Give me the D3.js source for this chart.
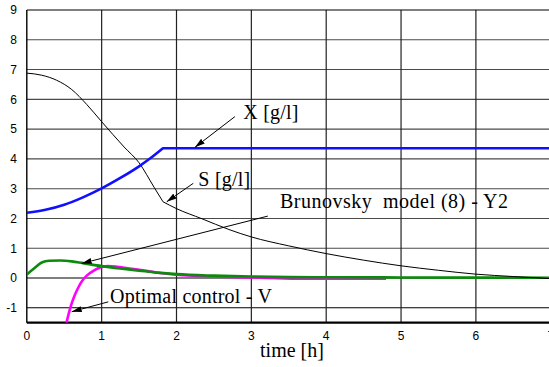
<!DOCTYPE html>
<html>
<head>
<meta charset="utf-8">
<script src="https://cdn.jsdelivr.net/npm/d3@7"></script>
<style>
  html, body { margin: 0; padding: 0; background: #fff; overflow: hidden; }
  svg { display: block; }
</style>
</head>
<body>
<svg id="chart" width="549" height="367"></svg>
<script>
// Fed-batch simulation: concentrations and control signal over time
const xTicks = [0, 1, 2, 3, 4, 5, 6, 7];
const yTicks = [-1, 0, 1, 2, 3, 4, 5, 6, 7, 8, 9];

// S [g/l] (substrate); feeding switches at t = 1.82 h
const sTime   = [0, 0.2, 0.4, 0.6, 0.8, 1.0, 1.3, 1.5, 1.7, 1.82, 2.0, 2.34, 2.7, 3.0, 3.5, 4.0, 4.5, 5.0, 5.5, 6.0, 6.5, 7.0];
const sValues = [6.88, 6.81, 6.64, 6.33, 5.83, 5.25, 4.40, 3.87, 3.05, 2.56, 2.33, 1.99, 1.63, 1.38, 1.08, 0.82, 0.60, 0.41, 0.26, 0.13, 0.05, -0.02];

// X [g/l] (biomass)
const xTime   = [0, 0.25, 0.5, 0.75, 1.0, 1.25, 1.5, 1.65, 1.82, 7.0];
const xValues = [2.19, 2.29, 2.46, 2.71, 3.01, 3.36, 3.75, 4.02, 4.36, 4.36];

// Brunovsky model (8) - Y2
const yTime   = [0, 0.1, 0.2, 0.3, 0.45, 0.6, 0.75, 1.0, 1.25, 1.5, 1.75, 2.0, 2.5, 3.0, 3.5, 4.0, 5.0, 6.0, 7.0];
const yValues = [0.12, 0.33, 0.52, 0.58, 0.59, 0.56, 0.50, 0.40, 0.32, 0.25, 0.18, 0.13, 0.08, 0.05, 0.03, 0.025, 0.02, 0.015, 0.01];

// Optimal control - V
const vTime   = [0.53, 0.57, 0.6, 0.64, 0.68, 0.72, 0.77, 0.84, 0.9, 0.98, 1.08, 1.2, 1.35, 1.5, 1.75, 2.0, 2.5, 3.0, 3.6, 4.8];
const vValues = [-1.5, -1.1, -0.85, -0.58, -0.36, -0.17, 0.0, 0.16, 0.26, 0.35, 0.40, 0.38, 0.33, 0.28, 0.18, 0.11, 0.05, 0.02, -0.02, -0.02];

const switchTime = 1.82;

const svg = d3.select("#chart");

const x = d3.scaleLinear().domain([0, 7]).range([26.8, 26.8 + 7 * 74.85]);
const y = d3.scaleLinear().domain([-1.5, 9]).range([322.7, 10]);

// grid
const grid = svg.append("g");
grid.selectAll("line.h").data(yTicks.filter(v => v < 9)).join("line")
  .attr("x1", x(0)).attr("x2", 549)
  .attr("y1", d => y(d)).attr("y2", d => y(d))
  .attr("stroke", d => d <= 0 ? "#000" : "#4a4a4a").attr("stroke-width", 1.1);
grid.selectAll("line.v").data(xTicks.filter(v => v > 0 && v < 7)).join("line")
  .attr("x1", d => x(d)).attr("x2", d => x(d))
  .attr("y1", y(9)).attr("y2", y(-1.5))
  .attr("stroke", "#222").attr("stroke-width", 1.2);

// frame: top, left, bottom axis line
svg.append("line").attr("x1", x(0)).attr("x2", 549).attr("y1", y(9)).attr("y2", y(9)).attr("stroke", "#000").attr("stroke-width", 1.2);
svg.append("line").attr("x1", x(0)).attr("x2", x(0)).attr("y1", y(9)).attr("y2", y(-1.5)).attr("stroke", "#000").attr("stroke-width", 1.4);
svg.append("line").attr("x1", x(0)).attr("x2", 549).attr("y1", y(-1.5)).attr("y2", y(-1.5)).attr("stroke", "#000").attr("stroke-width", 2.2);

// tick labels
const tickFont = "'Liberation Sans', Arial, sans-serif";
svg.append("g").selectAll("text").data(yTicks).join("text")
  .attr("x", 17).attr("y", d => y(d)).attr("dy", "0.36em")
  .attr("text-anchor", "end").attr("font-family", tickFont).attr("font-size", 12)
  .attr("fill", "#000").text(d => d);
svg.append("g").selectAll("text").data(xTicks).join("text")
  .attr("x", d => x(d)).attr("y", 339.5)
  .attr("text-anchor", "middle").attr("font-family", tickFont).attr("font-size", 12)
  .attr("fill", "#000").text(d => d);

// clip for series
svg.append("clipPath").attr("id", "plot").append("rect")
  .attr("x", x(0)).attr("y", y(9)).attr("width", 549 - x(0)).attr("height", y(-1.5) - y(9));

const line = d3.line().x(d => x(d[0])).y(d => y(d[1])).curve(d3.curveMonotoneX);
const pairs = (t, v) => t.map((d, i) => [d, v[i]]);
// smooth within each regime, sharp corner at the switch
const split = p => line(p.filter(d => d[0] <= switchTime)) + line(p.filter(d => d[0] >= switchTime)).replace(/^M/, "L");

const series = svg.append("g").attr("clip-path", "url(#plot)").attr("fill", "none");
series.append("path").attr("d", line(pairs(vTime, vValues)))
  .attr("stroke", "#ff00ff").attr("stroke-width", 2.6);
series.append("path").attr("d", line(pairs(yTime, yValues)))
  .attr("stroke", "#0b8a0b").attr("stroke-width", 2.6);
series.append("path").attr("d", split(pairs(sTime, sValues)))
  .attr("stroke", "#000").attr("stroke-width", 1).attr("stroke-linejoin", "round");
series.append("path").attr("d", split(pairs(xTime, xValues)))
  .attr("stroke", "#1010ff").attr("stroke-width", 2.6).attr("stroke-linejoin", "round");

// annotations with arrows
svg.append("defs").append("marker")
  .attr("id", "head").attr("viewBox", "0 0 10 6").attr("refX", 10).attr("refY", 3)
  .attr("markerWidth", 10).attr("markerHeight", 6).attr("markerUnits", "userSpaceOnUse")
  .attr("orient", "auto")
  .append("path").attr("d", "M0,0 L10,3 L0,6 Z").attr("fill", "#000");

const notes = [
  { text: "X [g/l]", tx: 2.893, ty: 5.34, from: [2.78, 5.42], to: [2.247, 4.39], w: 55 },
  { text: "S [g/l]", tx: 2.291, ty: 3.09, from: [2.224, 3.18], to: [1.869, 2.56], w: 52 },
  { text: "Brunovsky  model (8) - Y2", tx: 3.383, ty: 2.36, from: [3.22, 2.08], to: [0.733, 0.49], w: 228 },
  { text: "Optimal control - V", tx: 1.112, ty: -0.85, from: [1.089, -0.80], to: [0.60, -1.13], w: 162 }
];
const ann = svg.append("g");
ann.selectAll("line").data(notes).join("line")
  .attr("x1", d => x(d.from[0])).attr("y1", d => y(d.from[1]))
  .attr("x2", d => x(d.to[0])).attr("y2", d => y(d.to[1]))
  .attr("stroke", "#000").attr("stroke-width", 1).attr("marker-end", "url(#head)");
ann.selectAll("text").data(notes).join("text")
  .attr("x", d => x(d.tx)).attr("y", d => y(d.ty))
  .attr("font-family", "'Liberation Serif', 'Times New Roman', serif").attr("font-size", 20)
  .attr("textLength", d => d.w).attr("lengthAdjust", "spacing")
  .attr("fill", "#000").style("white-space", "pre").text(d => d.text);

// axis title
svg.append("text").attr("x", 292).attr("y", 357).attr("text-anchor", "middle")
  .attr("font-family", "'Liberation Serif', 'Times New Roman', serif").attr("font-size", 20)
  .attr("fill", "#000").text("time [h]");
</script>
</body>
</html>
